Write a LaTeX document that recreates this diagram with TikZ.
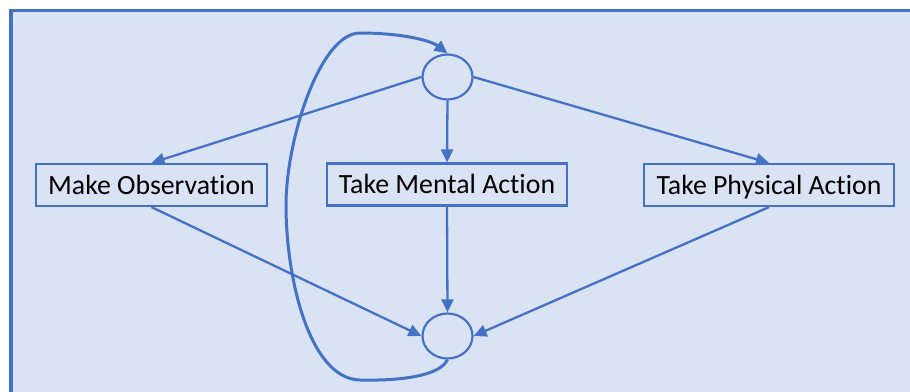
\documentclass[tikz,border=0pt]{standalone}
\usepackage{fontspec}
\setmainfont{Carlito}[Ligatures=NoCommon]
\usetikzlibrary{arrows.meta,shapes.geometric}
\definecolor{obl}{HTML}{4472C4}
\definecolor{obg}{HTML}{DAE3F3}
\begin{document}
\begin{tikzpicture}[x=1pt,y=-1pt,
  actbox/.style={draw=obl, line width=2.2pt, inner sep=0pt, minimum height=42pt,
    text height=18pt, text depth=0pt, font=\fontsize{27.8}{30}\selectfont},
  state/.style={ellipse, draw=obl, line width=2.2pt, inner sep=0pt,
    minimum width=50pt, minimum height=45pt},
  conn/.style={draw=obl, line width=2.3pt, -{Triangle[length=13pt,width=12pt]}},
  loopconn/.style={draw=obl, line width=3pt, -{Triangle[length=13pt,width=12pt]}}]
\useasboundingbox (0,0) rectangle (910,391);
\begin{scope}
  \clip (0,0) rectangle (910,391);
  \fill[white] (0,0) rectangle (910,391);
  \draw[obl, line width=3.5pt, fill=obg] (11,10.5) rectangle (940,420);
\end{scope}
\node[state] (top) at (447.5,77) {};
\node[state] (bot) at (447.5,336) {};
\node[actbox, minimum width=231pt] (obs) at (151.5,185) {Make Observation};
\node[actbox, minimum width=240pt] (men) at (447,184.5) {Take Mental Action};
\node[actbox, minimum width=250pt] (phy) at (769,185) {Take Physical Action};
\draw[conn] (top.west) -- (obs.north);
\draw[conn] (top.south) -- (men.north);
\draw[conn] (top.east) -- (phy.north);
\draw[conn] (obs.south) -- (bot.west);
\draw[conn] (men.south) -- (bot.north);
\draw[conn] (phy.south) -- (bot.east);
\draw[loopconn] (bot.south) .. controls (440,376) and (400,381) .. (360,380)
  .. controls (310,379) and (286,280) .. (286,205)
  .. controls (286,140) and (320,33) .. (360,33)
  .. controls (400,33) and (430,40) .. (top.north);
\end{tikzpicture}
\end{document}
